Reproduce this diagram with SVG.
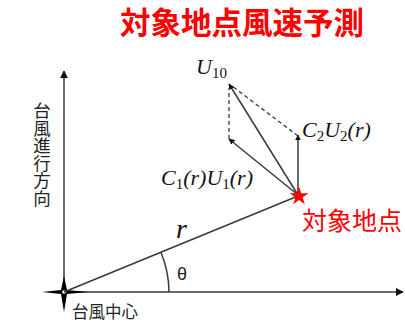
<svg xmlns="http://www.w3.org/2000/svg" width="405" height="323" viewBox="0 0 405 323">
<defs>
<style>
.ln{stroke:#3a3a3a;stroke-width:1.5;fill:none}
.ds{stroke:#3a3a3a;stroke-width:1.3;fill:none;stroke-dasharray:4 3}
.math{font-family:"Liberation Serif","Times New Roman",serif;font-style:italic;fill:#111}
.sub{font-style:normal;font-size:15px}
.jp{font-family:"Noto Sans CJK JP","Noto Sans",sans-serif}
.red{fill:#ff0000}
</style>
<marker id="ah" viewBox="0 0 10 10" refX="9" refY="5" markerWidth="6" markerHeight="6" markerUnits="userSpaceOnUse" orient="auto">
<path d="M0,0 L10,5 L0,10 z" fill="#111"/>
</marker>
<marker id="ah2" viewBox="0 0 10 10" refX="9" refY="5" markerWidth="8" markerHeight="8" markerUnits="userSpaceOnUse" orient="auto">
<path d="M0,0 L10,5 L0,10 z" fill="#111"/>
</marker>
</defs>

<text id="title" class="jp red" x="242" y="34" font-size="30.5" font-weight="bold" text-anchor="middle">対象地点風速予測</text>

<g id="axes">
<line class="ln" x1="64" y1="292" x2="403" y2="292" marker-end="url(#ah2)"/>
<line class="ln" x1="64" y1="300" x2="64" y2="71" marker-end="url(#ah2)"/>
</g>

<g id="center">
<path d="M42,292 L61,290 L64,276 L67,290 L88,292 L67,294 L64,312 L61,294 Z" fill="#000"/>
<circle cx="64" cy="292" r="1.8" fill="#fff"/>
<text class="jp" x="72" y="318" font-size="16.5" fill="#222">台風中心</text>
</g>

<g id="direction-label">
<text class="jp" x="42" y="102" font-size="17.5" fill="#222" style="writing-mode:vertical-rl">台風進行方向</text>
</g>

<g id="connectors">
<line class="ln" x1="64" y1="292" x2="298" y2="196"/>
<path class="ln" d="M169,292 A105,105 0 0 0 161,252.5" stroke-width="1.2"/>
<line class="ln" x1="298" y1="195" x2="229" y2="84" marker-end="url(#ah)"/>
<line class="ln" x1="298" y1="195" x2="229" y2="139" marker-end="url(#ah)"/>
<line class="ln" x1="298" y1="195" x2="298" y2="135" marker-end="url(#ah)"/>
<line class="ds" x1="229" y1="139" x2="229" y2="88"/>
<line class="ds" x1="298" y1="136" x2="232" y2="86"/>
</g>

<g id="labels">
<text class="math" x="196" y="74" font-size="22">U<tspan class="sub" dy="4">10</tspan></text>
<text class="math" x="302" y="137" font-size="22">C<tspan class="sub" dy="4">2</tspan><tspan dy="-4">U</tspan><tspan class="sub" dy="4">2</tspan><tspan dy="-4">(r)</tspan></text>
<text class="math" x="161" y="185" font-size="22">C<tspan class="sub" dy="4">1</tspan><tspan dy="-4">(r)U</tspan><tspan class="sub" dy="4">1</tspan><tspan dy="-4">(r)</tspan></text>
<text class="math" x="176" y="238" font-size="28">r</text>
<text x="177" y="280" font-size="18" font-family="Liberation Sans,Arial,sans-serif" fill="#222">θ</text>
</g>

<g id="target">
<path d="M299,186.5 L301.2,193.3 L308.3,193.3 L302.6,197.5 L304.8,204.3 L299,200.1 L293.2,204.3 L295.4,197.5 L289.7,193.3 L296.8,193.3 Z" fill="#ff0000"/>
<text class="jp red" x="302" y="230" font-size="25">対象地点</text>
</g>
</svg>
